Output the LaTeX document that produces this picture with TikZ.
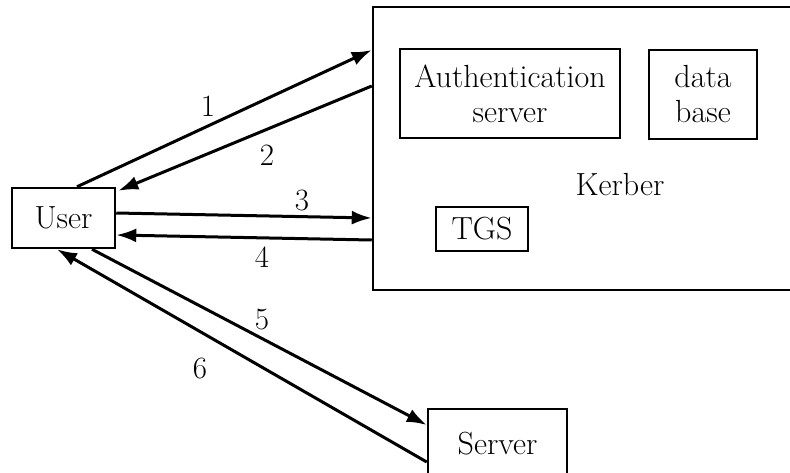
\documentclass[tikz,border=0pt]{standalone}
\usetikzlibrary{arrows.meta}
\begin{document}
\begin{tikzpicture}[x=1pt,y=-1pt,
  bigfont/.style={font=\fontsize{32}{35}\selectfont},
  box/.style={draw, line width=2.5pt, inner sep=0pt, bigfont, align=center},
  conn/.style={line width=3pt, -{Latex[length=20pt,width=14pt]}},
  lbl/.style={font=\fontsize{31}{35}\selectfont, inner sep=0pt}]
\useasboundingbox[fill=white] (0,0) rectangle (790,472);
% nodes
\node[box, minimum width=103pt, minimum height=60pt] (user) at (63.5,218) {User};
\node[box, minimum width=427pt, minimum height=283pt] (kerb) at (586.5,148.5) {};
\node[box, minimum width=220pt, minimum height=89pt] (auth) at (510,93.5) {Authentication\\server};
\node[box, minimum width=108pt, minimum height=89pt] (db) at (703,94.5) {data\\base};
\node[box, minimum width=92pt, minimum height=44pt] (tgs) at (482,229) {TGS};
\node[lbl, font=\fontsize{32}{35}\selectfont] (klabel) at (620,185) {Kerber};
\node[box, minimum width=139pt, minimum height=69pt] (server) at (497.5,443.5) {Server};
% connectors
\draw[conn] ([xshift=13.5pt]user.north) -- ([yshift=98.5pt]kerb.west);
\draw[conn] ([yshift=62.5pt]kerb.west) -- ([xshift=2pt,yshift=-4pt]user.north east);
\draw[conn] ([yshift=5pt]user.east) -- ([yshift=-69.5pt]kerb.west);
\draw[conn] ([yshift=-91.5pt]kerb.west) -- ([yshift=-17pt]user.east);
\draw[conn] ([xshift=28.5pt]user.south) -- ([yshift=18.5pt]server.west);
\draw[conn] ([yshift=-18.5pt]server.west) -- ([xshift=-6.5pt]user.south);
% labels
\node[lbl] (l1) at (208,106) {1};
\node[lbl] (l2) at (267,155) {2};
\node[lbl] (l3) at (302,200) {3};
\node[lbl] (l4) at (262,257) {4};
\node[lbl] (l5) at (262,320) {5};
\node[lbl] (l6) at (200,368) {6};
\end{tikzpicture}
\end{document}
